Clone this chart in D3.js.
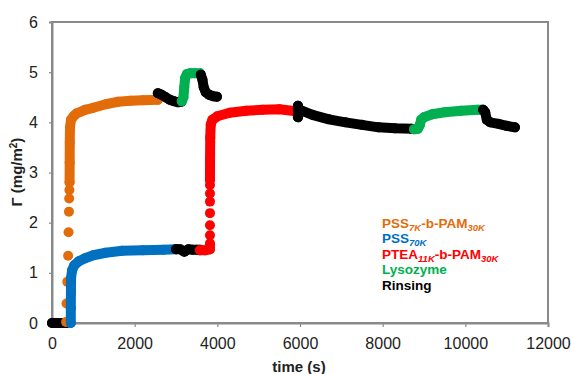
<!DOCTYPE html>
<html><head><meta charset="utf-8">
<script src="https://cdn.jsdelivr.net/npm/d3@7"></script>
<style>body{margin:0;background:#fff}svg{display:block;font-family:Arial,"Liberation Sans",sans-serif}</style>
</head><body><svg id="c" width="571" height="374"></svg>
<script>
// ---- data (time s, surface excess mg/m^2) ----
const xTicks = [0, 2000, 4000, 6000, 8000, 10000, 12000];
const yTicks = [0, 1, 2, 3, 4, 5, 6];

const rinse0 = [[0,0],[100,0],[200,0],[300,0],[350,0]];
const pssbDots = [[340,0.02],[350,0.39],[370,0.82],[390,1.34],[400,1.81],[410,2.22],[415,2.48],[420,2.65]];
const pssb = [[425,2.8],[428,3.2],[430,3.6],[435,3.9],[460,4.05],[520,4.12],[600,4.18],[800,4.25],[1000,4.29],[1300,4.36],[1600,4.41],[1900,4.43],[2200,4.44],[2560,4.45]];
const rinse1 = [[2560,4.58],[2650,4.55],[2750,4.5],[2850,4.45],[2950,4.42],[3050,4.4],[3130,4.41]];
const lyso1 = [[3140,4.42],[3180,4.5],[3200,4.7],[3220,4.88],[3260,4.96],[3350,4.98],[3450,4.98],[3580,4.98]];
const rinse2 = [[3600,4.95],[3640,4.85],[3670,4.7],[3720,4.6],[3800,4.55],[3900,4.52],[3990,4.51]];
const pss = [[455,0],[455,0.3],[458,0.6],[462,0.9],[485,1.05],[540,1.15],[650,1.23],[800,1.29],[1000,1.35],[1300,1.4],[1700,1.44],[2200,1.45],[2700,1.46],[3000,1.47]];
const rinse3 = [[3000,1.47],[3100,1.47],[3200,1.42],[3300,1.47],[3400,1.46],[3500,1.46],[3580,1.46]];
const pteaBase = [[3580,1.45],[3700,1.45],[3820,1.47],[3822,1.55]];
const pteaDots = [[3822,1.59],[3822,1.75],[3822,1.95],[3822,2.19],[3822,2.42],[3822,2.58],[3822,2.75]];
const ptea = [[3822,2.85],[3824,3.3],[3828,3.7],[3840,3.95],[3880,4.05],[4000,4.12],[4300,4.19],[4700,4.23],[5100,4.25],[5500,4.26],[5900,4.22]];
const rinse4 = [[5950,4.33],[5950,4.1],[6000,4.25],[6300,4.15],[6700,4.06],[7100,4.0],[7500,3.95],[7900,3.9],[8300,3.88],[8700,3.87]];
const lyso2 = [[8760,3.86],[8850,3.87],[8900,3.95],[8930,4.05],[9000,4.1],[9200,4.16],[9500,4.2],[9900,4.23],[10300,4.25],[10400,4.25]];
const rinse5 = [[10430,4.25],[10480,4.2],[10520,4.05],[10600,4.0],[10800,3.97],[11000,3.93],[11200,3.9]];

const legendItems = [
  {parts:[["PSS",0],["7K",1],["-b-PAM",0],["30K",1]], color:"#E36C0A"},
  {parts:[["PSS",0],["70K",1]], color:"#0070C0"},
  {parts:[["PTEA",0],["11K",1],["-b-PAM",0],["30K",1]], color:"#FF0000"},
  {parts:[["Lysozyme",0]], color:"#00B050"},
  {parts:[["Rinsing",0]], color:"#000000"}
];

// ---- drawing ----
const svg = d3.select("#c");
const x = d3.scaleLinear().domain([0,12000]).range([52,548]);
const y = d3.scaleLinear().domain([0,6]).range([323,22]);
const axisCol = "#8a8a8a";

svg.append("rect").attr("x",52).attr("y",22).attr("width",496).attr("height",301)
  .attr("fill","none").attr("stroke",axisCol).attr("stroke-width",2);

const xa = svg.append("g").attr("transform","translate(0,323)")
  .call(d3.axisBottom(x).tickValues(xTicks).tickSize(4).tickPadding(11).tickFormat(d3.format("d")));
const ya = svg.append("g").attr("transform","translate(52,0)")
  .call(d3.axisLeft(y).tickValues(yTicks).tickSize(3).tickPadding(11).tickFormat(d3.format("d")));
[xa,ya].forEach(g=>{
  g.select(".domain").attr("stroke",axisCol).attr("stroke-width",2);
  g.selectAll(".tick line").attr("stroke",axisCol).attr("stroke-width",1.2);
  g.selectAll(".tick text").attr("font-size",16).attr("fill","#222").attr("font-family","Arial, 'Liberation Sans', sans-serif");
});

const line = d3.line().x(d=>x(d[0])).y(d=>y(d[1]));
function band(data,color){
  svg.append("path").datum(data).attr("d",line).attr("fill","none")
    .attr("stroke",color).attr("stroke-width",10).attr("stroke-linecap","round").attr("stroke-linejoin","round");
  dots(data,color,5);
}
function dots(data,color,r){
  svg.append("g").selectAll("circle").data(data).join("circle")
    .attr("cx",d=>x(d[0])).attr("cy",d=>y(d[1])).attr("r",r||5).attr("fill",color);
}
const OR="#E36C0A", BL="#0070C0", RD="#FF0000", GR="#00B050", BK="#000";
band(rinse0,BK);
dots(pssbDots,OR,5);
band(pssb,OR);
band(pss,BL);
band(rinse1,BK);
band(lyso1,GR);
band(rinse2,BK);
band(rinse3,BK);
band(pteaBase,RD);
dots(pteaDots,RD,5);
band(ptea,RD);
band(rinse4,BK);
band(lyso2,GR);
band(rinse5,BK);

// legend
const lg = svg.append("g").attr("font-weight","bold").attr("font-size",13.5);
legendItems.forEach((it,i)=>{
  const t = lg.append("text").attr("x",382).attr("y",230.5+i*15.6).attr("fill",it.color);
  it.parts.forEach(p=>{
    if(p[1]) t.append("tspan").attr("font-size",9.5).attr("font-style","italic").attr("dy",3).text(p[0]);
    else t.append("tspan").attr("dy", t.selectAll("tspan").size() ? -3 : 0).text(p[0]);
  });
});

// axis titles
svg.append("text").attr("x",299).attr("y",372).attr("text-anchor","middle")
  .attr("font-weight","bold").attr("font-size",15).attr("fill","#222").text("time (s)");
const yl = svg.append("text").attr("transform","translate(22,172) rotate(-90)").attr("text-anchor","middle")
  .attr("font-weight","bold").attr("font-size",15).attr("fill","#222");
yl.append("tspan").text("Γ (mg/m");
yl.append("tspan").attr("font-size",10).attr("dy",-5).text("2");
yl.append("tspan").attr("dy",5).text(")");
</script></body></html>
